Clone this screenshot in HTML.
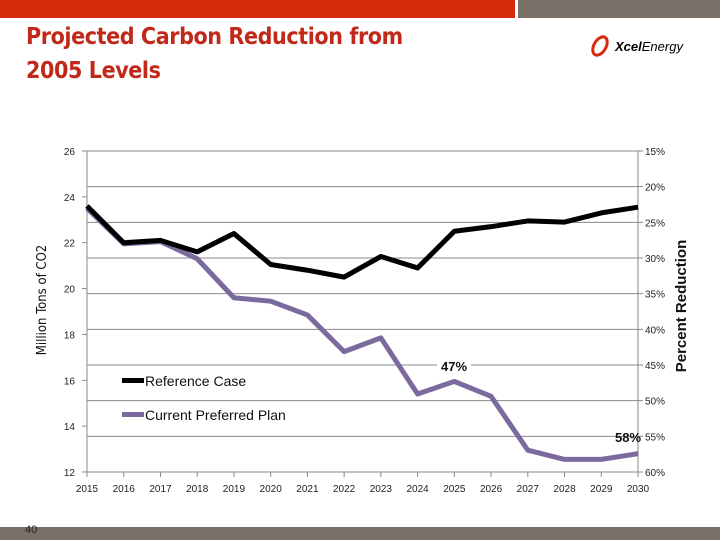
<!DOCTYPE html>
<html><head><meta charset="utf-8"><style>
body{margin:0;width:720px;height:540px;overflow:hidden;background:#fff;position:relative;font-family:"Liberation Sans",sans-serif}
.abs{position:absolute}
</style></head><body>
<div class="abs" style="left:0;top:0;width:515px;height:18px;background:#d52b0c"></div>
<div class="abs" style="left:518px;top:0;width:202px;height:18px;background:#7a7068"></div>
<div class="abs" style="left:26px;top:20px;font-size:23px;line-height:34px;color:#c0281a;font-weight:bold;font-family:'DejaVu Sans Condensed','Liberation Sans Narrow','Liberation Sans',sans-serif;letter-spacing:-0.4px">Projected Carbon Reduction from<br>2005 Levels</div>
<div class="abs" style="left:590px;top:34px;width:120px;height:24px">
<svg width="120" height="24"><ellipse cx="10" cy="12" rx="6" ry="10" fill="none" stroke="#d52b0c" stroke-width="3" transform="rotate(30 10 12)"/><text x="25" y="17" font-size="13" font-style="italic" font-weight="bold" font-family="Liberation Sans" fill="#000">Xcel<tspan font-weight="normal">Energy</tspan></text></svg></div>
<div class="abs" style="left:0;top:527px;width:720px;height:13px;background:#7a7068"></div>
<div class="abs" style="left:25px;top:524px;font-size:11px;color:#222">40</div>
<svg class="abs" style="left:0;top:0" width="720" height="540" id="chart"></svg>
<script>
const years=[2015,2016,2017,2018,2019,2020,2021,2022,2023,2024,2025,2026,2027,2028,2029,2030];
const referenceCase=[23.6,22.0,22.1,21.6,22.4,21.05,20.8,20.5,21.4,20.9,22.5,22.7,22.95,22.9,23.3,23.55];
const preferredPlan=[23.5,21.95,22.05,21.3,19.6,19.45,18.85,17.25,17.85,15.4,15.95,15.3,12.95,12.55,12.55,12.8];
const leftTicks=[12,14,16,18,20,22,24,26];
const rightTicks=["15%","20%","25%","30%","35%","40%","45%","50%","55%","60%"];
const svg=document.getElementById('chart');const NS='http://www.w3.org/2000/svg';
const X0=87,X1=638,Y0=151,Y1=472;
const x=y=>X0+(y-2015)/(2030-2015)*(X1-X0);
const yL=v=>Y1-(v-12)/(26-12)*(Y1-Y0);
const yR=i=>Y0+i*(Y1-Y0)/(rightTicks.length-1);
function mk(t,a,txt){const e=document.createElementNS(NS,t);for(const k in a)e.setAttribute(k,a[k]);if(txt!==undefined)e.textContent=txt;svg.appendChild(e);return e;}
rightTicks.forEach((t,i)=>{
 const g=mk('line',{x1:X0,x2:X1+5,y1:yR(i),y2:yR(i),stroke:'#888','stroke-width':1});
 
 
 const l=mk('text',{x:X1+7,y:yR(i)+4,'font-size':10,fill:'#222','font-family':'Liberation Sans'},t);
 
 
});
leftTicks.forEach(v=>{
 mk('line',{x1:X0-5,x2:X0,y1:yL(v),y2:yL(v),stroke:'#888'});
 const l=mk('text',{x:X0-12,y:yL(v)+4,'font-size':10,fill:'#222','text-anchor':'end','font-family':'Liberation Sans'},v);
 
 
});
mk('line',{x1:X0,x2:X0,y1:Y0,y2:Y1,stroke:'#888'});
mk('line',{x1:X1,x2:X1,y1:Y0,y2:Y1,stroke:'#888'});
years.forEach(yr=>{
 mk('line',{x1:x(yr),x2:x(yr),y1:Y1,y2:Y1+5,stroke:'#888'});
 const l=mk('text',{x:x(yr),y:Y1+20,'font-size':10,fill:'#222','text-anchor':'middle','font-family':'Liberation Sans'},yr);
 
 
});
function series(data,color,name){
 const p=mk('polyline',{points:data.map((v,i)=>x(years[i])+','+yL(v)).join(' '),fill:'none',stroke:color,'stroke-width':5,'stroke-linejoin':'round'});
 
 
}
series(preferredPlan,'#7b6a9e','preferred-plan-line');
series(referenceCase,'#000','reference-case-line');
[['#000','Reference Case',381],['#7b6a9e','Current Preferred Plan',415]].forEach(([c,t,yy])=>{
 mk('rect',{x:122,y:yy-3,width:22,height:5,fill:c});
 const l=mk('text',{x:145,y:yy+5,'font-size':14,fill:'#111','font-family':'Liberation Sans'},t);
 
 
});
mk('rect',{x:437,y:358,width:34,height:16,fill:'#fff'});
const t1=mk('text',{x:454,y:371,'font-size':13,'font-weight':'bold','text-anchor':'middle',fill:'#111','font-family':'Liberation Sans'},'47%');


const t2=mk('text',{x:628,y:442,'font-size':13,'font-weight':'bold','text-anchor':'middle',fill:'#111','font-family':'Liberation Sans'},'58%');


const yt=mk('text',{transform:'translate(46,300) rotate(-90)','font-size':13,'text-anchor':'middle',fill:'#111','font-family':'DejaVu Sans Condensed, Liberation Sans'},'Million Tons of CO2');


const rt=mk('text',{transform:'translate(686,306) rotate(-90)','font-size':15,'font-weight':'bold','text-anchor':'middle',fill:'#111','font-family':'Liberation Sans'},'Percent Reduction');


</script>
</body></html>
